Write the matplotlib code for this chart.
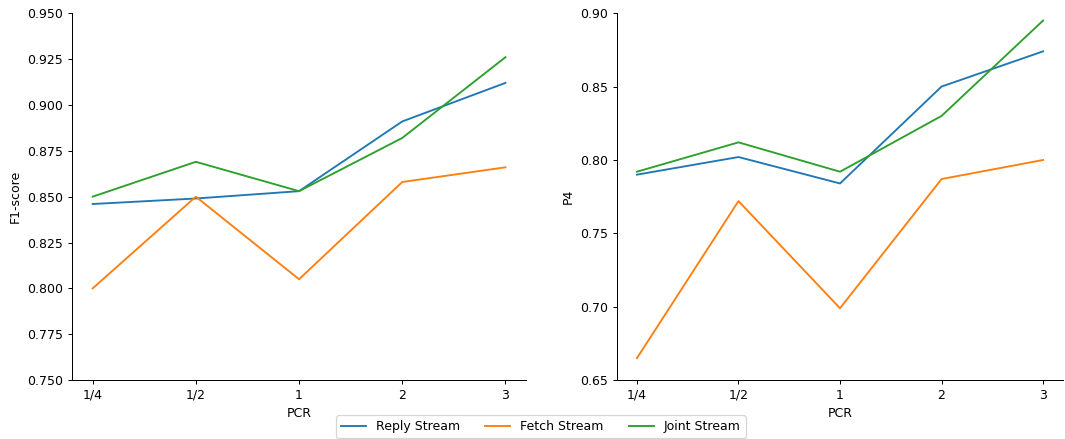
import matplotlib
matplotlib.use('Agg')
import matplotlib.pyplot as plt
import numpy as np


pcr_labels = ['1/4', '1/2', '1', '2', '3']
series_names = ['Reply Stream', 'Fetch Stream', 'Joint Stream']

f1_reply = [0.846, 0.849, 0.853, 0.891, 0.912]
f1_fetch = [0.800, 0.850, 0.805, 0.858, 0.866]
f1_joint = [0.850, 0.869, 0.853, 0.882, 0.926]

p4_reply = [0.790, 0.802, 0.784, 0.850, 0.874]
p4_fetch = [0.665, 0.772, 0.699, 0.787, 0.800]
p4_joint = [0.792, 0.812, 0.792, 0.830, 0.895]

colors = ['#1f77b4', '#ff7f0e', '#2ca02c']

# drawn at dpi 90 so text and lines come out a bit smaller
dpi = 90
fig = plt.figure(figsize=(1065 / dpi, 439 / dpi), dpi=dpi)

x = np.arange(len(pcr_labels))

ax1 = fig.add_axes([0.0676, 0.134, 0.494 - 0.0676, 0.970 - 0.134])
for ys, name, c in zip([f1_reply, f1_fetch, f1_joint], series_names, colors):
    ax1.plot(x, ys, color=c, linewidth=1.5, label=name)
ax1.set_ylim(0.75, 0.95)
ax1.set_yticks(np.arange(0.75, 0.9501, 0.025))
ax1.yaxis.set_major_formatter(matplotlib.ticker.FormatStrFormatter('%.3f'))
ax1.set_xticks(x, pcr_labels)
ax1.set_xlabel('PCR')
ax1.set_ylabel('F1-score')
ax1.spines['top'].set_visible(False)
ax1.spines['right'].set_visible(False)

ax2 = fig.add_axes([0.579, 0.134, 0.9985 - 0.579, 0.970 - 0.134])
for ys, name, c in zip([p4_reply, p4_fetch, p4_joint], series_names, colors):
    ax2.plot(x, ys, color=c, linewidth=1.5, label=name)
ax2.set_ylim(0.65, 0.90)
ax2.set_yticks(np.arange(0.65, 0.9001, 0.05))
ax2.yaxis.set_major_formatter(matplotlib.ticker.FormatStrFormatter('%.2f'))
ax2.set_xticks(x, pcr_labels)
ax2.set_xlabel('PCR')
ax2.set_ylabel('P4')
ax2.spines['top'].set_visible(False)
ax2.spines['right'].set_visible(False)

handles, labels = ax1.get_legend_handles_labels()
fig.legend(handles, labels, loc='lower center', ncol=3, bbox_to_anchor=(0.508, -0.012),
           columnspacing=2.0)

plt.savefig('out.png', dpi=dpi)
plt.clf()
plt.close()
